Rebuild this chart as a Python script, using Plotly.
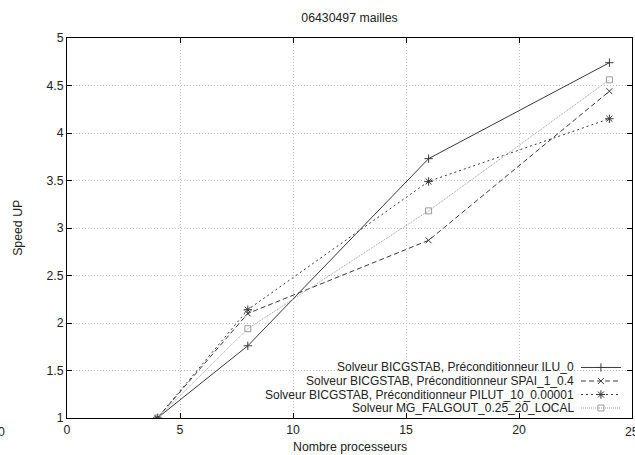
import plotly.graph_objects as go

procs = [4, 8, 16, 24]
series_names = [
    "Solveur BICGSTAB, Préconditionneur ILU_0",
    "Solveur BICGSTAB, Préconditionneur SPAI_1_0.4",
    "Solveur BICGSTAB, Préconditionneur PILUT_10_0.00001",
    "Solveur MG_FALGOUT_0.25_20_LOCAL",
]
ilu0 = [1.0, 1.76, 3.73, 4.74]
spai = [1.0, 2.10, 2.87, 4.44]
pilut = [1.0, 2.14, 3.49, 4.15]
mg = [1.0, 1.94, 3.18, 4.56]
x_ticks = [0, 5, 10, 15, 20, 25]
y_ticks = [1, 1.5, 2, 2.5, 3, 3.5, 4, 4.5, 5]

values = [ilu0, spai, pilut, mg]
colors = ["#3a3a3a", "#3a3a3a", "#3a3a3a", "#9a9a9a"]
dashes = ["solid", "5px,3px", "2px,3px", "1px,1px"]
symbols = ["cross-thin-open", "x-thin-open", "asterisk-open", "square-open"]
sizes = [6, 6, 7, 6]

FONT = "Liberation Sans"
FS = 12.3
fig = go.Figure()
for name, vals, c, d, s, sz in zip(series_names, values, colors, dashes, symbols, sizes):
    fig.add_trace(go.Scatter(
        x=procs, y=vals, mode="lines+markers", name=name,
        line=dict(color=c, width=1, dash=d),
        marker=dict(symbol=s, size=sz, color=c, line=dict(color=c, width=1)),
        showlegend=False,
    ))

# manual gnuplot-style legend (text right, sample at right)
row_y = [0.133, 0.0974, 0.0618, 0.0263]
for name, c, d, s, sz, ry in zip(series_names, colors, dashes, symbols, sizes, row_y):
    fig.add_trace(go.Scatter(
        x=[0.9097, 0.9805], y=[ry, ry], mode="lines", xaxis="x2", yaxis="y2",
        line=dict(color=c, width=1, dash=d), showlegend=False, hoverinfo="skip"))
    fig.add_trace(go.Scatter(
        x=[0.945], y=[ry], mode="markers", xaxis="x2", yaxis="y2",
        marker=dict(symbol=s, size=sz, color=c, line=dict(color=c, width=1)),
        showlegend=False, hoverinfo="skip"))
    fig.add_annotation(text=name, xref="paper", yref="paper", x=0.899, y=ry,
                       xanchor="right", yanchor="middle", showarrow=False,
                       borderpad=0,
                       font=dict(family=FONT, size=12, color="#222"))

axis_common = dict(
    showline=True, linecolor="black", linewidth=1, mirror="ticks",
    ticks="inside", ticklen=5, tickcolor="black",
    showgrid=True, gridcolor="#c4c4c4", griddash="1px,2px", gridwidth=1,
    zeroline=False, tickfont=dict(family=FONT, size=FS, color="#222"),
)
fig.update_layout(
    width=635, height=455,
    margin=dict(l=67, r=3, t=38, b=37),
    paper_bgcolor="white", plot_bgcolor="white",
    xaxis=dict(range=[0, 25], tickvals=x_ticks, **axis_common),
    yaxis=dict(range=[1, 5], tickvals=y_ticks, **axis_common),
    xaxis2=dict(range=[0, 1], overlaying="x", visible=False, fixedrange=True),
    yaxis2=dict(range=[0, 1], overlaying="y", visible=False, fixedrange=True),
    title=dict(text="06430497 mailles", x=0.5, xref="paper", y=1 - 18 / 455,
               yref="container", xanchor="center", yanchor="middle",
               font=dict(family=FONT, size=FS, color="#222")),
    showlegend=False,
)
fig.add_annotation(text="Speed UP", xref="paper", yref="paper", x=-0.087, y=0.5,
                   textangle=-90, showarrow=False, xanchor="center", yanchor="middle",
                   font=dict(family=FONT, size=FS, color="#222"))
fig.add_annotation(text="Nombre processeurs", xref="paper", yref="paper", x=0.5, y=-0.076,
                   showarrow=False, xanchor="center", yanchor="middle",
                   font=dict(family=FONT, size=FS, color="#222"))
fig.add_annotation(text="0", xref="paper", yref="paper", x=-0.116, y=-0.037,
                   showarrow=False, xanchor="center", yanchor="middle",
                   font=dict(family=FONT, size=FS, color="#222"))
fig.add_annotation(text="25", xref="paper", yref="paper", x=1.0, y=-0.037,
                   showarrow=False, xanchor="center", yanchor="middle",
                   font=dict(family=FONT, size=FS, color="#222"))

fig.write_html("out.html")
